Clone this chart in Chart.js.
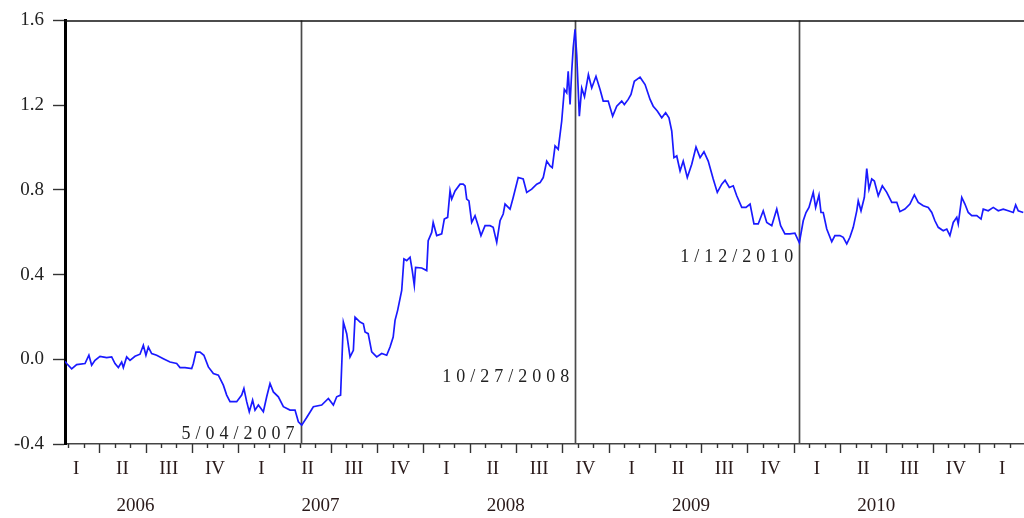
<!DOCTYPE html>
<html>
<head>
<meta charset="utf-8">
<script src="https://cdn.jsdelivr.net/npm/chart.js@4.4.1/dist/chart.umd.min.js"></script>
<style>
    body { margin: 0; background: #fff; }
    #wrap { width: 1024px; height: 518px; }
</style>
</head>
<body>
<div id="wrap"><canvas id="spreadChart" width="1024" height="518"></canvas></div>
<script>
// التواريخ (سنوات عشرية) والقيم المقروءة من الرسم
const dates = [
    2006.065, 2006.074, 2006.101, 2006.128, 2006.173, 2006.194, 2006.209, 2006.227, 2006.254, 2006.290,
    2006.317, 2006.335, 2006.353, 2006.371, 2006.380, 2006.398, 2006.416, 2006.443, 2006.470, 2006.488,
    2006.502, 2006.515, 2006.533, 2006.560, 2006.596, 2006.632, 2006.668, 2006.686, 2006.713, 2006.749,
    2006.758, 2006.772, 2006.794, 2006.815, 2006.839, 2006.866, 2006.893, 2006.920, 2006.938, 2006.956,
    2006.992, 2007.019, 2007.031, 2007.046, 2007.060, 2007.078, 2007.091, 2007.109, 2007.136, 2007.154,
    2007.172, 2007.190, 2007.217, 2007.244, 2007.280, 2007.307, 2007.325, 2007.343, 2007.370, 2007.406,
    2007.451, 2007.487, 2007.514, 2007.532, 2007.553, 2007.568, 2007.586, 2007.604, 2007.622, 2007.631,
    2007.658, 2007.676, 2007.685, 2007.702, 2007.721, 2007.748, 2007.775, 2007.802, 2007.820, 2007.837,
    2007.847, 2007.861, 2007.883, 2007.895, 2007.910, 2007.928, 2007.940, 2007.951, 2007.958, 2007.991,
    2008.018, 2008.026, 2008.045, 2008.053, 2008.072, 2008.099, 2008.113, 2008.131, 2008.144, 2008.153,
    2008.171, 2008.198, 2008.215, 2008.225, 2008.234, 2008.246, 2008.261, 2008.279, 2008.293, 2008.311,
    2008.333, 2008.360, 2008.377, 2008.396, 2008.414, 2008.431, 2008.441, 2008.468, 2008.485, 2008.512,
    2008.539, 2008.558, 2008.585, 2008.612, 2008.630, 2008.647, 2008.666, 2008.684, 2008.696, 2008.711,
    2008.728, 2008.747, 2008.761, 2008.774, 2008.782, 2008.792, 2008.801, 2008.809, 2008.819, 2008.828,
    2008.842, 2008.855, 2008.870, 2008.891, 2008.909, 2008.932, 2008.954, 2008.971, 2008.998, 2009.022,
    2009.044, 2009.071, 2009.085, 2009.106, 2009.121, 2009.139, 2009.170, 2009.197, 2009.224, 2009.241,
    2009.263, 2009.287, 2009.308, 2009.326, 2009.341, 2009.353, 2009.368, 2009.386, 2009.403, 2009.425,
    2009.449, 2009.472, 2009.494, 2009.515, 2009.538, 2009.565, 2009.587, 2009.611, 2009.629, 2009.652,
    2009.673, 2009.692, 2009.719, 2009.742, 2009.764, 2009.785, 2009.808, 2009.835, 2009.854, 2009.881,
    2009.908, 2009.929, 2009.952, 2009.979, 2010.006, 2010.030, 2010.051, 2010.066, 2010.082, 2010.105,
    2010.118, 2010.136, 2010.147, 2010.159, 2010.178, 2010.205, 2010.222, 2010.249, 2010.267, 2010.286,
    2010.303, 2010.321, 2010.340, 2010.348, 2010.363, 2010.381, 2010.394, 2010.406, 2010.421, 2010.435,
    2010.456, 2010.478, 2010.502, 2010.529, 2010.556, 2010.573, 2010.600, 2010.627, 2010.651, 2010.672,
    2010.699, 2010.726, 2010.745, 2010.762, 2010.780, 2010.807, 2010.826, 2010.843, 2010.861, 2010.880,
    2010.888, 2010.907, 2010.924, 2010.942, 2010.961, 2010.988, 2011.011, 2011.023, 2011.050, 2011.077,
    2011.104, 2011.131, 2011.158, 2011.185, 2011.198, 2011.212, 2011.239
];
const values = [
    -0.010, -0.020, -0.045, -0.025, -0.020, 0.019, -0.028, -0.005, 0.014, 0.008,
    0.011, -0.020, -0.039, -0.013, -0.039, 0.011, -0.005, 0.014, 0.024, 0.066,
    0.019, 0.058, 0.027, 0.019, 0.003, -0.013, -0.020, -0.039, -0.039, -0.044,
    -0.020, 0.034, 0.034, 0.019, -0.036, -0.067, -0.075, -0.122, -0.169, -0.200,
    -0.200, -0.169, -0.138, -0.200, -0.248, -0.193, -0.240, -0.216, -0.248, -0.177,
    -0.114, -0.154, -0.177, -0.224, -0.240, -0.240, -0.295, -0.311, -0.275, -0.224,
    -0.216, -0.185, -0.216, -0.177, -0.169, 0.176, 0.121, 0.011, 0.042, 0.199,
    0.176, 0.168, 0.129, 0.121, 0.035, 0.011, 0.027, 0.019, 0.058, 0.105,
    0.184, 0.231, 0.325, 0.474, 0.466, 0.482, 0.419, 0.349, 0.434, 0.431,
    0.419, 0.560, 0.599, 0.646, 0.584, 0.592, 0.662, 0.670, 0.795, 0.756,
    0.795, 0.827, 0.827, 0.819, 0.756, 0.748, 0.646, 0.678, 0.639, 0.584,
    0.631, 0.631, 0.623, 0.552, 0.654, 0.686, 0.733, 0.709, 0.764, 0.858,
    0.851, 0.788, 0.803, 0.827, 0.834, 0.858, 0.936, 0.913, 0.905, 1.007,
    0.991, 1.125, 1.274, 1.258, 1.360, 1.203, 1.360, 1.470, 1.558, 1.438,
    1.148, 1.281, 1.240, 1.344, 1.281, 1.336, 1.274, 1.219, 1.219, 1.148,
    1.195, 1.219, 1.203, 1.227, 1.250, 1.313, 1.332, 1.297, 1.227, 1.195,
    1.172, 1.140, 1.164, 1.140, 1.078, 0.952, 0.960, 0.889, 0.936, 0.858,
    0.921, 1.002, 0.952, 0.980, 0.936, 0.851, 0.788, 0.827, 0.845, 0.811,
    0.819, 0.772, 0.717, 0.717, 0.733, 0.639, 0.639, 0.701, 0.646, 0.631,
    0.709, 0.631, 0.592, 0.592, 0.595, 0.550, 0.654, 0.693, 0.717, 0.788,
    0.717, 0.776, 0.693, 0.693, 0.615, 0.555, 0.584, 0.584, 0.576, 0.545,
    0.576, 0.623, 0.701, 0.748, 0.701, 0.764, 0.900, 0.803, 0.851, 0.842,
    0.772, 0.819, 0.788, 0.741, 0.741, 0.697, 0.709, 0.733, 0.776, 0.741,
    0.725, 0.717, 0.693, 0.654, 0.623, 0.607, 0.615, 0.584, 0.646, 0.670,
    0.639, 0.764, 0.733, 0.693, 0.678, 0.678, 0.662, 0.709, 0.701, 0.717,
    0.701, 0.709, 0.701, 0.693, 0.729, 0.701, 0.693
];

// تدريج المحاور
const yTicks = [-0.4, 0.0, 0.4, 0.8, 1.2, 1.6];
const quarterLabels = ['I', 'II', 'III', 'IV'];
const yearLabels = [2006, 2007, 2008, 2009, 2010, 2011];

// الأحداث: الموقع على المحور، النص، ومستوى النص
const eventDates = [2007.337, 2008.820, 2010.030];
const eventLabels = ['5/04/2007', '10/27/2008', '1/12/2010'];
const eventLabelLevels = [-0.353, -0.085, 0.48];

const X_MIN = 2006.065;
const X_MAX = 2011.243;
const SERIF = "'Liberation Serif', 'DejaVu Serif', serif";

// رسم الإطار والخطوط العمودية وتسميات المحور الأفقي
const decorPlugin = {
    id: 'decor',
    beforeDatasetsDraw(chart) {
        const { ctx, chartArea, scales } = chart;
        ctx.save();
        ctx.strokeStyle = '#4a4a4a';
        ctx.lineWidth = 1.7;
        eventDates.forEach(d => {
            const x = Math.round(scales.x.getPixelForValue(d)) + 0.5;
            ctx.beginPath();
            ctx.moveTo(x, chartArea.top);
            ctx.lineTo(x, chartArea.bottom);
            ctx.stroke();
        });
        ctx.restore();
    },
    afterDraw(chart) {
        const { ctx, chartArea, scales } = chart;
        const xs = scales.x;
        const ys = scales.y;
        ctx.save();

        // الحد العلوي
        ctx.strokeStyle = '#111';
        ctx.lineWidth = 1.5;
        ctx.beginPath();
        ctx.moveTo(chartArea.left, chartArea.top + 0.5);
        ctx.lineTo(chartArea.right, chartArea.top + 0.5);
        ctx.stroke();

        // علامات الأشهر والأرباع
        ctx.strokeStyle = '#333';
        ctx.lineWidth = 1.4;
        yearLabels.forEach(yr => {
            for (let m = 0; m < 12; m++) {
                const v = yr + m / 12;
                if (v < X_MIN || v > X_MAX) continue;
                const x = Math.round(xs.getPixelForValue(v)) + 0.5;
                const len = (m % 3 === 0) ? 9 : 4;
                ctx.beginPath();
                ctx.moveTo(x, chartArea.bottom);
                ctx.lineTo(x, chartArea.bottom + len);
                ctx.stroke();
            }
        });

        // تسميات الأرباع والسنوات
        ctx.fillStyle = '#2a1a1a';
        ctx.font = '19px ' + SERIF;
        ctx.textAlign = 'center';
        ctx.textBaseline = 'middle';
        yearLabels.forEach(yr => {
            quarterLabels.forEach((q, i) => {
                const v = yr + (i * 3 + 1.5) / 12;
                if (v < X_MIN || v > X_MAX) return;
                ctx.fillText(q, xs.getPixelForValue(v), 469);
            });
            const yv = yr + 0.445;
            if (yv <= X_MAX) ctx.fillText(String(yr), xs.getPixelForValue(yv), 506);
        });

        // نصوص الأحداث
        ctx.fillStyle = '#222';
        ctx.font = '18px ' + SERIF;
        ctx.textAlign = 'right';
        ctx.textBaseline = 'middle';
        ctx.letterSpacing = '5px';
        eventDates.forEach((d, i) => {
            ctx.fillText(eventLabels[i], xs.getPixelForValue(d) - 1, ys.getPixelForValue(eventLabelLevels[i]));
        });
        ctx.restore();
    }
};

function initializeChart() {
    const ctx = document.getElementById('spreadChart').getContext('2d');
    new Chart(ctx, {
        type: 'line',
        data: {
            datasets: [{
                data: dates.map((d, i) => ({ x: d, y: values[i] })),
                borderColor: '#1a1aff',
                borderWidth: 1.7,
                pointRadius: 0,
                tension: 0,
                fill: false
            }]
        },
        options: {
            responsive: false,
            animation: false,
            layout: { padding: { top: 19, right: 0, left: 0, bottom: 0 } },
            plugins: {
                legend: { display: false },
                tooltip: { enabled: false }
            },
            scales: {
                x: {
                    type: 'linear',
                    min: X_MIN,
                    max: X_MAX,
                    ticks: { display: false },
                    grid: { display: false },
                    border: { display: true, color: '#444', width: 1.5 },
                    afterFit(scale) { scale.height = 74; }
                },
                y: {
                    min: -0.4,
                    max: 1.6,
                    afterBuildTicks(scale) {
                        scale.ticks = yTicks.map(v => ({ value: v }));
                    },
                    ticks: {
                        callback: v => v.toFixed(1),
                        color: '#222',
                        font: { family: SERIF, size: 19 },
                        padding: 9
                    },
                    grid: {
                        drawOnChartArea: false,
                        tickLength: 12,
                        tickColor: '#333',
                        tickWidth: 1.4
                    },
                    border: { display: true, color: '#000', width: 3 },
                    afterFit(scale) { scale.width = 65; }
                }
            }
        },
        plugins: [decorPlugin]
    });
}

document.addEventListener('DOMContentLoaded', initializeChart);
</script>
</body>
</html>
